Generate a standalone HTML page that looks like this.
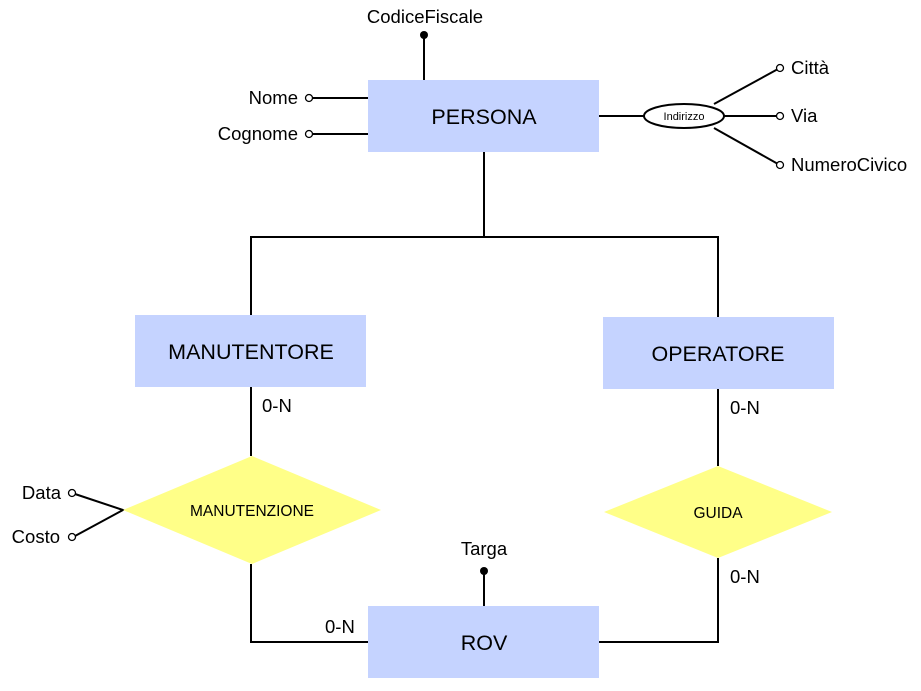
<!DOCTYPE html>
<html><head><meta charset="utf-8"><style>
body{margin:0;background:#fff}
svg{display:block;font-family:"Liberation Sans",sans-serif}
</style></head><body>
<svg width="921" height="691" viewBox="0 0 921 691" xmlns="http://www.w3.org/2000/svg">
<g stroke="#000" stroke-width="2" fill="none">
<line x1="484" y1="152" x2="484" y2="237"/>
<polyline points="251,315 251,237 718,237 718,317"/>
<line x1="251" y1="387" x2="251" y2="456"/>
<polyline points="251,564 251,642 368,642"/>
<line x1="718" y1="389" x2="718" y2="466"/>
<polyline points="718,558 718,642 599,642"/>
<line x1="484" y1="571" x2="484" y2="606"/>
<line x1="424" y1="35" x2="424" y2="80"/>
<line x1="312" y1="98" x2="368" y2="98"/>
<line x1="312" y1="134" x2="368" y2="134"/>
<line x1="599" y1="116" x2="644" y2="116"/>
<line x1="714" y1="104" x2="778" y2="69"/>
<line x1="724" y1="116" x2="777" y2="116"/>
<line x1="714" y1="128" x2="778" y2="164"/>
<polyline points="75,494 123,510 75,536"/>
</g>
<rect x="368" y="80" width="231" height="72" fill="#c5d3ff"/>
<rect x="135" y="315" width="231" height="72" fill="#c5d3ff"/>
<rect x="603" y="317" width="231" height="72" fill="#c5d3ff"/>
<rect x="368" y="606" width="231" height="72" fill="#c5d3ff"/>
<polygon points="123,510 252,456 381,510 252,564" fill="#ffff88"/>
<polygon points="604,512 718,466 832,512 718,558" fill="#ffff88"/>
<ellipse cx="684" cy="116" rx="40" ry="12" fill="#fff" stroke="#000" stroke-width="2"/>
<g fill="#fff" stroke="#000" stroke-width="1.3">
<circle cx="309" cy="98" r="3.5"/><circle cx="309" cy="134" r="3.5"/>
<circle cx="780" cy="68" r="3.5"/><circle cx="780" cy="116" r="3.5"/><circle cx="780" cy="165" r="3.5"/>
<circle cx="72" cy="493" r="3.5"/><circle cx="72" cy="537" r="3.5"/>
</g>
<circle cx="424" cy="35" r="4" fill="#000"/>
<circle cx="484" cy="571" r="4" fill="#000"/>
<g font-size="21.5" text-anchor="middle" fill="#000">
<text x="484" y="124">PERSONA</text>
<text x="251" y="359">MANUTENTORE</text>
<text x="718" y="361">OPERATORE</text>
<text x="484" y="650">ROV</text>
</g>
<g font-size="15.5" text-anchor="middle">
<text x="252" y="516">MANUTENZIONE</text>
<text x="718" y="518">GUIDA</text>
</g>
<text x="684" y="120" font-size="11" text-anchor="middle">Indirizzo</text>
<g font-size="18.5">
<text x="425" y="23" text-anchor="middle">CodiceFiscale</text>
<text x="298" y="104" text-anchor="end">Nome</text>
<text x="298" y="140" text-anchor="end">Cognome</text>
<text x="791" y="74">Città</text>
<text x="791" y="122">Via</text>
<text x="791" y="171">NumeroCivico</text>
<text x="61" y="499" text-anchor="end">Data</text>
<text x="60" y="543" text-anchor="end">Costo</text>
<text x="484" y="555" text-anchor="middle">Targa</text>
<text x="262" y="412">0-N</text>
<text x="730" y="414">0-N</text>
<text x="730" y="583">0-N</text>
<text x="325" y="633">0-N</text>
</g>
</svg>
</body></html>
